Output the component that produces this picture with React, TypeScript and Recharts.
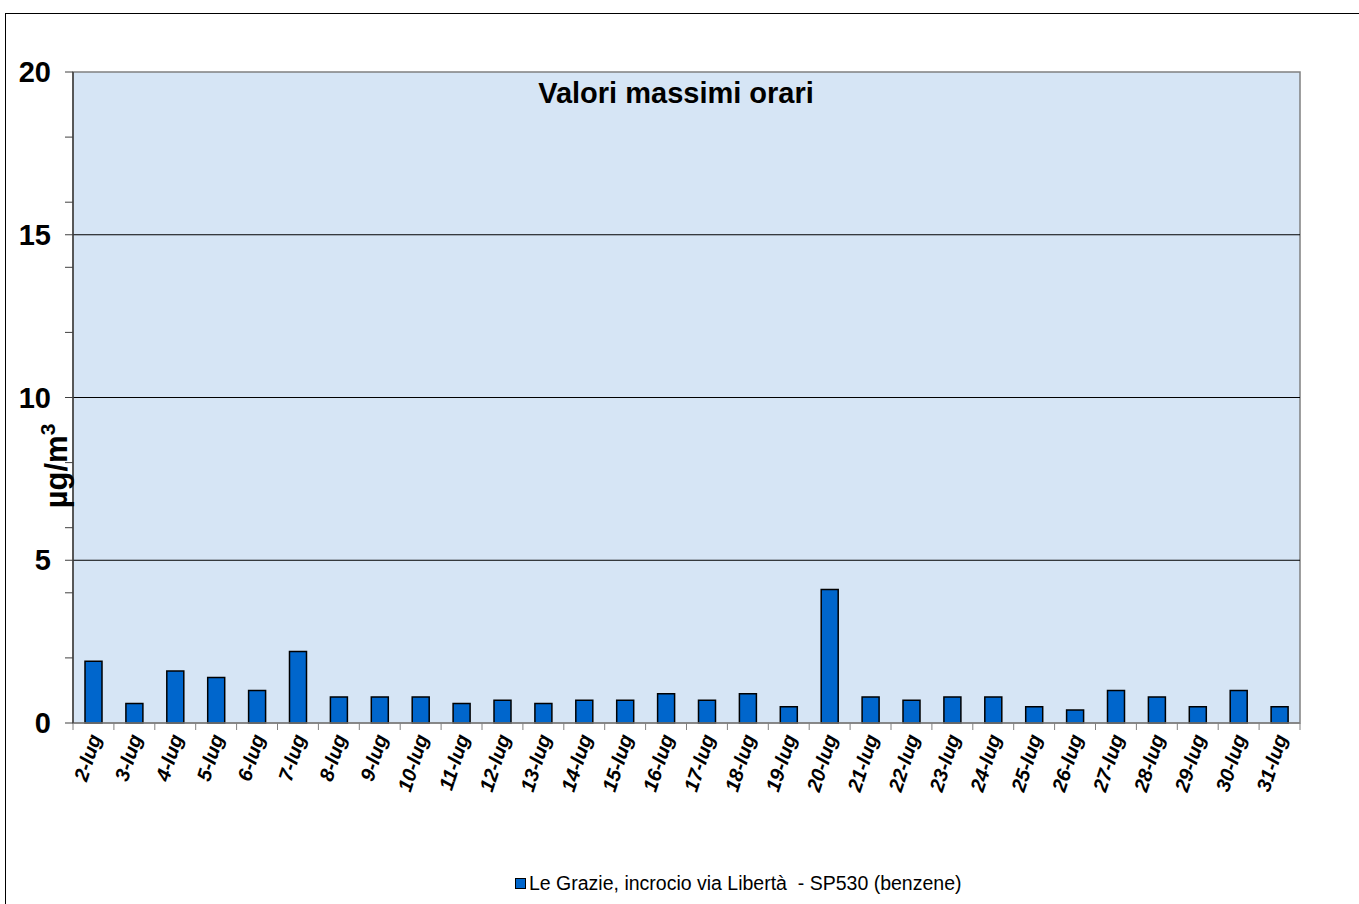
import {
  BarChart,
  Bar,
  XAxis,
  YAxis,
  CartesianGrid,
  ReferenceLine,
  ReferenceArea,
} from "recharts";

const days = [
  "2-lug", "3-lug", "4-lug", "5-lug", "6-lug", "7-lug", "8-lug", "9-lug", "10-lug", "11-lug",
  "12-lug", "13-lug", "14-lug", "15-lug", "16-lug", "17-lug", "18-lug", "19-lug", "20-lug", "21-lug",
  "22-lug", "23-lug", "24-lug", "25-lug", "26-lug", "27-lug", "28-lug", "29-lug", "30-lug", "31-lug",
];

const benzene = [
  1.9, 0.6, 1.6, 1.4, 1.0, 2.2, 0.8, 0.8, 0.8, 0.6,
  0.7, 0.6, 0.7, 0.7, 0.9, 0.7, 0.9, 0.5, 4.1, 0.8,
  0.7, 0.8, 0.8, 0.5, 0.4, 1.0, 0.8, 0.5, 1.0, 0.5,
];

const yTicks = [0, 2, 4, 5, 6, 8, 10, 12, 14, 15, 16, 18, 20];
const gridLines = [5, 10, 15];

const seriesName = "Le Grazie, incrocio via Libertà  - SP530 (benzene)";
const title = "Valori massimi orari";

const data = days.map((d, i) => ({ day: d, value: benzene[i] }));

const CHART_W = 1354;
const CHART_H = 890;
const LEFT = 67;
const RIGHT = 60;
const PLOT_W = CHART_W - LEFT - RIGHT;
const BAND = PLOT_W / days.length;
const FONT = "'Liberation Sans', Arial, Helvetica, sans-serif";

// eslint-disable-next-line @typescript-eslint/no-explicit-any
const XTick = ({ x, y, payload, index }: any) => (
  <g>
    <line x1={x - BAND / 2} y1={y} x2={x - BAND / 2} y2={y + 7} stroke="#808080" />
    {index === days.length - 1 && (
      <line x1={x + BAND / 2} y1={y} x2={x + BAND / 2} y2={y + 7} stroke="#808080" />
    )}
    <text
      x={x + 8}
      y={y + 14}
      textAnchor="end"
      transform={`rotate(-72, ${x + 8}, ${y + 14})`}
      fontFamily={FONT}
      fontSize={20}
      fontWeight="bold"
      fontStyle="italic"
      fill="#000"
    >
      {payload.value}
    </text>
  </g>
);

// eslint-disable-next-line @typescript-eslint/no-explicit-any
const YTick = ({ x, y, payload }: any) => (
  <g>
    <line x1={x - 8} y1={y} x2={x} y2={y} stroke="#404040" />
    {payload.value % 5 === 0 && (
      <text
        x={x - 22}
        y={y + 10}
        textAnchor="end"
        fontFamily={FONT}
        fontSize={29}
        fontWeight="bold"
        fill="#000"
      >
        {payload.value}
      </text>
    )}
  </g>
);

export default function App() {
  return (
    <div
      style={{
        position: "absolute",
        left: 5,
        top: 13,
        width: 1360,
        height: 900,
        border: "1px solid #000",
        background: "#fff",
        fontFamily: FONT,
      }}
    >
      <BarChart
        width={CHART_W}
        height={CHART_H}
        data={data}
        margin={{ top: 58, right: RIGHT, left: 0, bottom: 0 }}
      >
        <CartesianGrid fill="#d6e5f5" horizontal={false} vertical={false} />
        <ReferenceArea y1={0} y2={20} fill="none" stroke="#808080" strokeWidth={1.5} />
        {gridLines.map((v) => (
          <ReferenceLine key={v} y={v} stroke="#000" strokeWidth={1} />
        ))}
        <XAxis
          dataKey="day"
          interval={0}
          height={181}
          tickSize={0}
          tickMargin={0}
          tickLine={false}
          axisLine={{ stroke: "#808080", strokeWidth: 1.5 }}
          tick={<XTick />}
        />
        <YAxis
          width={LEFT}
          domain={[0, 20]}
          ticks={yTicks}
          interval={0}
          tickSize={0}
          tickMargin={0}
          tickLine={false}
          axisLine={{ stroke: "#404040", strokeWidth: 1.5 }}
          tick={<YTick />}
          label={{
            content: () => (
              <text
                transform="translate(61, 452) rotate(-90)"
                textAnchor="middle"
                fontFamily={FONT}
                fontSize={31}
                fontWeight="bold"
                fill="#000"
              >
                µg/m
                <tspan dy={-12} fontSize={21}>3</tspan>
              </text>
            ),
          }}
        />
        <Bar
          dataKey="value"
          name={seriesName}
          fill="#0066CC"
          stroke="#000"
          strokeWidth={1.5}
          barSize={17}
          isAnimationActive={false}
        />
      </BarChart>
      <div
        style={{
          position: "absolute",
          left: 0,
          width: CHART_W,
          top: 63,
          textAlign: "center",
          fontSize: 29,
          fontWeight: "bold",
        }}
      >
        <span style={{ position: "relative", left: -7 }}>{title}</span>
      </div>
      <div
        style={{
          position: "absolute",
          left: 509,
          top: 858,
          display: "flex",
          alignItems: "center",
          fontSize: 19.5,
          whiteSpace: "pre",
          color: "#000",
        }}
      >
        <span
          style={{
            display: "inline-block",
            width: 9,
            height: 9,
            background: "#0066CC",
            border: "1.5px solid #000",
            marginRight: 3,
          }}
        />
        {seriesName}
      </div>
    </div>
  );
}
